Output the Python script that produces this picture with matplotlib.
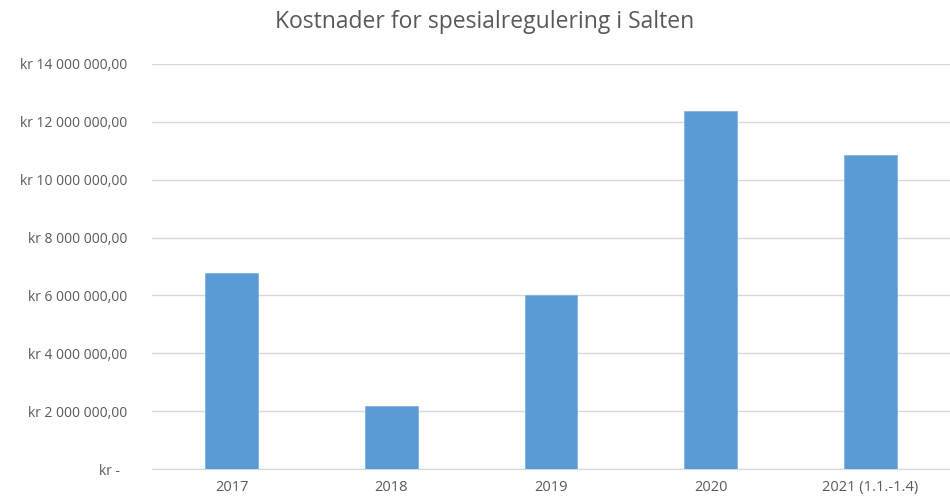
import matplotlib.pyplot as plt
from matplotlib.ticker import FuncFormatter, MultipleLocator

# data
years = ["2017", "2018", "2019", "2020", "2021 (1.1.-1.4)"]
costs = [6780000, 2170000, 6020000, 12370000, 10850000]

plt.rcParams['font.family'] = ['Open Sans', 'DejaVu Sans']
grey_text = "#595959"


def kr_fmt(v, pos):
    if v == 0:
        return "kr -  "
    s = f"{int(round(v)):,}".replace(",", " ")
    return f"kr {s},00"


fig = plt.figure(figsize=(9.5, 4.99), dpi=100)
ax = fig.add_axes([0.16, 0.06, 0.84, 0.812])

x = range(len(years))
ax.bar(x, costs, width=0.33, color="#5b9bd5", edgecolor="#7fb2e0", linewidth=0.6, zorder=3)

ax.set_xlim(-0.5, len(years) - 0.5)
ax.set_ylim(0, 14000000)
ax.yaxis.set_major_locator(MultipleLocator(2000000))
ax.yaxis.set_major_formatter(FuncFormatter(kr_fmt))
ax.set_xticks(list(x))
ax.set_xticklabels(years)

ax.grid(axis="y", color="#d9d9d9", linewidth=1, zorder=0)
for side in ["top", "right", "left"]:
    ax.spines[side].set_visible(False)
ax.spines["bottom"].set_color("#d9d9d9")
ax.tick_params(axis="y", length=0, pad=18, labelsize=10, labelcolor=grey_text)
ax.tick_params(axis="x", length=0, pad=8, labelsize=10.5, labelcolor=grey_text)

fig.text(0.51, 0.956, "Kostnader for spesialregulering i Salten", ha="center", va="center",
         fontsize=16.5, color=grey_text)

fig.savefig("out.png", dpi=100)
